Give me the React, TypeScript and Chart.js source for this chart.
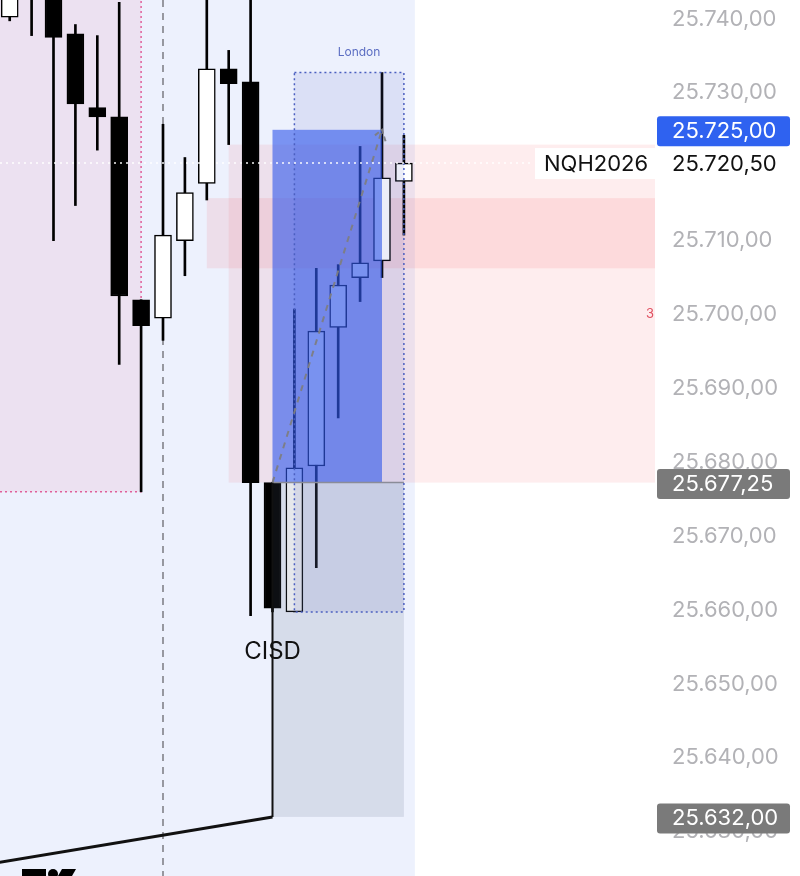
import React, { useEffect, useRef } from "react";
import { Chart, registerables } from "chart.js";

Chart.register(...registerables);

// ---- candle data (bar index, OHLC) ----
const candleIndex = [0, 1, 2, 3, 4, 5, 6, 7, 8, 9, 10, 11, 12, 13, 14, 15, 16, 17, 18];
const opens = [25740.25, 25752.0, 25745.0, 25738.0, 25728.0, 25726.75, 25702.0, 25699.5, 25710.0, 25717.75, 25733.25, 25731.5, 25677.25, 25659.75, 25679.5, 25698.25, 25705.0, 25707.25, 25718.0];
const highs = [25748.0, 25755.0, 25748.0, 25739.25, 25737.75, 25742.25, 25702.0, 25725.75, 25721.25, 25746.0, 25735.75, 25748.0, 25677.25, 25700.75, 25706.25, 25706.75, 25722.75, 25732.75, 25724.25];
const lows = [25739.75, 25737.75, 25710.0, 25714.75, 25722.25, 25693.25, 25676.0, 25696.5, 25705.25, 25715.5, 25723.0, 25659.25, 25659.75, 25659.75, 25665.75, 25686.0, 25701.75, 25705.0, 25710.75];
const closes = [25745.0, 25746.0, 25737.5, 25728.5, 25726.75, 25702.5, 25698.5, 25710.75, 25716.5, 25733.25, 25731.25, 25677.25, 25660.25, 25679.25, 25697.75, 25704.0, 25707.0, 25718.5, 25720.5];

// ---- price levels ----
const currentPrice = 25720.5;
const targetLevel = 25725;
const cisdLevel = 25677.25;
const swingLow = 25632;
const londonTop = 25732.75;
const londonBottom = 25659.75;
const pinkBoxBottom = 25676;
const fvgTop = 25715.75;
const fvgBottom = 25706.25;
const zoneTop = 25723;
const hiddenTick = 25720;

// ---- bar-index anchors for drawings ----
const sessionEndIdx = 18.5;
const pinkBoxEndIdx = 6;
const dashedLineIdx = 7;
const fvgStartIdx = 9;
const zoneStartIdx = 10;
const cisdIdx = 12;
const blueEndIdx = 17;
const londonStartIdx = 13;
const londonEndIdx = 18;
const trendLine = [[-2, 25625.1], [12, 25632]];
const cisdLabel = [12, 25654.3];
const londonLabel = [15.95, 25735.5];

const xMin = -0.443;
const xMax = 29.466;
const yMin = 25624.0;
const yMax = 25742.57;

const FONT = "Inter, 'Noto Sans', sans-serif";

function fmt(v: number): string {
  const [i, d] = Math.abs(v).toFixed(2).split(".");
  return i.replace(/\B(?=(\d{3})+(?!\d))/g, ".") + "," + d;
}

function roundRect(ctx: CanvasRenderingContext2D, x: number, y: number, w: number, h: number, r: number) {
  ctx.beginPath();
  ctx.moveTo(x + r, y);
  ctx.lineTo(x + w - r, y);
  ctx.quadraticCurveTo(x + w, y, x + w, y + r);
  ctx.lineTo(x + w, y + h - r);
  ctx.quadraticCurveTo(x + w, y + h, x + w - r, y + h);
  ctx.lineTo(x + r, y + h);
  ctx.quadraticCurveTo(x, y + h, x, y + h - r);
  ctx.lineTo(x, y + r);
  ctx.quadraticCurveTo(x, y, x + r, y);
  ctx.closePath();
}

const overlayPlugin = {
  id: "tvOverlay",
  beforeDraw(chart: any) {
    const { ctx, width, height } = chart;
    ctx.save();
    ctx.fillStyle = "#ffffff";
    ctx.fillRect(0, 0, width, height);
    ctx.restore();
  },
  beforeDatasetsDraw(chart: any) {
    const { ctx, chartArea: ca, scales } = chart;
    const X = (v: number) => scales.x.getPixelForValue(v);
    const Y = (v: number) => scales.y.getPixelForValue(v);
    ctx.save();
    ctx.beginPath();
    ctx.rect(ca.left, ca.top, ca.right - ca.left, ca.bottom - ca.top);
    ctx.clip();
    // session background
    ctx.fillStyle = "#edf1fd";
    ctx.fillRect(ca.left, ca.top, X(sessionEndIdx) - ca.left, ca.bottom - ca.top);
    // pink box
    const pbx = X(pinkBoxEndIdx);
    const pby = Y(pinkBoxBottom);
    ctx.fillStyle = "rgba(230,120,160,0.13)";
    ctx.fillRect(ca.left, ca.top, pbx - ca.left, pby - ca.top);
    ctx.strokeStyle = "#e0609a";
    ctx.lineWidth = 1.5;
    ctx.setLineDash([2, 3]);
    ctx.beginPath();
    ctx.moveTo(ca.left, pby);
    ctx.lineTo(pbx, pby);
    ctx.lineTo(pbx, ca.top);
    ctx.stroke();
    ctx.setLineDash([]);
    // red zones
    ctx.fillStyle = "rgba(242,54,69,0.09)";
    ctx.fillRect(X(zoneStartIdx), Y(zoneTop), ca.right - X(zoneStartIdx), Y(cisdLevel) - Y(zoneTop));
    ctx.fillStyle = "rgba(242,54,69,0.1)";
    ctx.fillRect(X(fvgStartIdx), Y(fvgTop), ca.right - X(fvgStartIdx), Y(fvgBottom) - Y(fvgTop));
    // dashed vertical
    ctx.strokeStyle = "#7a7a80";
    ctx.lineWidth = 1.5;
    ctx.setLineDash([7, 6]);
    ctx.beginPath();
    ctx.moveTo(X(dashedLineIdx), ca.top);
    ctx.lineTo(X(dashedLineIdx), ca.bottom);
    ctx.stroke();
    ctx.restore();
  },
  afterDatasetsDraw(chart: any) {
    const { ctx, chartArea: ca, scales } = chart;
    const X = (v: number) => scales.x.getPixelForValue(v);
    const Y = (v: number) => scales.y.getPixelForValue(v);
    ctx.save();
    ctx.beginPath();
    ctx.rect(ca.left, ca.top, ca.right - ca.left, ca.bottom - ca.top);
    ctx.clip();
    // London fill
    ctx.fillStyle = "rgba(90,110,200,0.12)";
    ctx.fillRect(X(londonStartIdx), Y(londonTop), X(londonEndIdx) - X(londonStartIdx), Y(londonBottom) - Y(londonTop));
    // gray rect
    ctx.fillStyle = "rgba(90,100,130,0.15)";
    ctx.fillRect(X(cisdIdx), Y(cisdLevel), X(londonEndIdx) - X(cisdIdx), Y(swingLow) - Y(cisdLevel));
    // blue rect
    ctx.fillStyle = "rgba(45,85,235,0.6)";
    ctx.fillRect(X(cisdIdx), Y(targetLevel), X(blueEndIdx) - X(cisdIdx), Y(cisdLevel) - Y(targetLevel));
    // cisd level line
    ctx.strokeStyle = "#8a8c98";
    ctx.lineWidth = 1.5;
    ctx.beginPath();
    ctx.moveTo(X(cisdIdx), Y(cisdLevel));
    ctx.lineTo(X(londonEndIdx), Y(cisdLevel));
    ctx.stroke();
    // London dotted border
    ctx.strokeStyle = "#4b5fc0";
    ctx.lineWidth = 1.5;
    ctx.setLineDash([2, 3]);
    ctx.strokeRect(X(londonStartIdx), Y(londonTop), X(londonEndIdx) - X(londonStartIdx), Y(londonBottom) - Y(londonTop));
    ctx.setLineDash([]);
    // trend line + vertical
    ctx.strokeStyle = "#111";
    ctx.lineWidth = 3;
    ctx.beginPath();
    ctx.moveTo(X(trendLine[0][0]), Y(trendLine[0][1]));
    ctx.lineTo(X(trendLine[1][0]), Y(trendLine[1][1]));
    ctx.stroke();
    ctx.lineWidth = 2;
    ctx.beginPath();
    ctx.moveTo(X(cisdIdx), Y(cisdLevel));
    ctx.lineTo(X(cisdIdx), Y(swingLow));
    ctx.stroke();
    // dashed arrow
    const ax0 = X(cisdIdx), ay0 = Y(cisdLevel), ax1 = X(blueEndIdx), ay1 = Y(targetLevel);
    ctx.strokeStyle = "rgba(125,125,130,0.95)";
    ctx.lineWidth = 2;
    ctx.setLineDash([6, 6]);
    ctx.beginPath();
    ctx.moveTo(ax0, ay0);
    ctx.lineTo(ax1, ay1);
    ctx.stroke();
    const ang = Math.atan2(ay1 - ay0, ax1 - ax0);
    ctx.setLineDash([5, 3]);
    ctx.beginPath();
    ctx.moveTo(ax1 - 12 * Math.cos(ang - 0.6), ay1 - 12 * Math.sin(ang - 0.6));
    ctx.lineTo(ax1, ay1);
    ctx.lineTo(ax1 - 12 * Math.cos(ang + 0.6), ay1 - 12 * Math.sin(ang + 0.6));
    ctx.stroke();
    ctx.setLineDash([]);
    // NQH label box
    const cy = Y(currentPrice);
    ctx.fillStyle = "#ffffff";
    ctx.fillRect(ca.right - 120, cy - 15, 120, 31);
    // current price dotted line
    ctx.strokeStyle = "rgba(255,255,255,0.95)";
    ctx.lineWidth = 1.5;
    ctx.setLineDash([2, 4]);
    ctx.beginPath();
    ctx.moveTo(ca.left, cy);
    ctx.lineTo(ca.right - 122, cy);
    ctx.stroke();
    ctx.setLineDash([]);
    ctx.fillStyle = "#111";
    ctx.font = `22px ${FONT}`;
    ctx.textAlign = "left";
    ctx.textBaseline = "middle";
    ctx.fillText("NQH2026", ca.right - 111, cy + 1);
    // texts
    ctx.font = `24px ${FONT}`;
    ctx.textAlign = "center";
    ctx.fillStyle = "#111";
    ctx.fillText("CISD", X(cisdLabel[0]), Y(cisdLabel[1]));
    ctx.font = `12px ${FONT}`;
    ctx.fillStyle = "#5b6dc2";
    ctx.fillText("London", X(londonLabel[0]), Y(londonLabel[1]));
    ctx.font = `13px ${FONT}`;
    ctx.fillStyle = "#e05060";
    ctx.textAlign = "right";
    ctx.fillText("3", ca.right - 1, Y(25700));
    // logo fragment
    ctx.fillStyle = "#000";
    ctx.fillRect(22, ca.bottom - 7, 24, 7);
    ctx.beginPath();
    ctx.arc(53, ca.bottom - 2, 5, 0, Math.PI * 2);
    ctx.fill();
    ctx.beginPath();
    ctx.moveTo(62, ca.bottom - 7);
    ctx.lineTo(76, ca.bottom - 7);
    ctx.lineTo(72, ca.bottom);
    ctx.lineTo(58, ca.bottom);
    ctx.closePath();
    ctx.fill();
    ctx.restore();
  },
  afterDraw(chart: any) {
    const { ctx, chartArea: ca, scales } = chart;
    const Y = (v: number) => scales.y.getPixelForValue(v);
    const lx = ca.right + 17;
    ctx.save();
    ctx.font = `22px ${FONT}`;
    ctx.textAlign = "left";
    ctx.textBaseline = "middle";
    const box = (price: number, color: string, text: string) => {
      const y = Y(price) + 1.5;
      ctx.fillStyle = color;
      roundRect(ctx, ca.right + 2, y - 15, 133, 30, 3);
      ctx.fill();
      ctx.fillStyle = "#ffffff";
      ctx.fillText(text, lx, y);
    };
    box(targetLevel, "#2f62f0", fmt(targetLevel));
    box(cisdLevel, "#7a7a7a", fmt(cisdLevel));
    box(swingLow, "#7a7a7a", fmt(swingLow));
    ctx.fillStyle = "#111";
    ctx.fillText(fmt(currentPrice), lx, Y(currentPrice) + 1);
    ctx.restore();
  },
};

export default function App() {
  const ref = useRef<HTMLCanvasElement | null>(null);
  useEffect(() => {
    if (!ref.current) return;
    const bodyColors = candleIndex.map((i) => (closes[i] >= opens[i] ? "#ffffff" : "#000000"));
    const chart = new Chart(ref.current, {
      type: "bar",
      data: {
        datasets: [
          {
            label: "wicks",
            data: candleIndex.map((i) => ({ x: i, y: [lows[i], highs[i]] })) as any,
            backgroundColor: "#000000",
            borderWidth: 0,
            barThickness: 2,
            grouped: false,
            order: 2,
          } as any,
          {
            label: "bodies",
            data: candleIndex.map((i) => ({ x: i, y: [opens[i], closes[i]] })) as any,
            backgroundColor: bodyColors,
            borderColor: "#000000",
            borderWidth: 1.5,
            borderSkipped: false,
            barThickness: 17,
            grouped: false,
            order: 1,
          } as any,
        ],
      },
      options: {
        animation: false,
        responsive: false,
        maintainAspectRatio: false,
        layout: { padding: 0 },
        plugins: { legend: { display: false }, tooltip: { enabled: false } },
        scales: {
          x: {
            type: "linear",
            display: false,
            min: xMin,
            max: xMax,
            offset: false,
            grid: { display: false },
          },
          y: {
            type: "linear",
            position: "right",
            min: yMin,
            max: yMax,
            grid: { display: false, drawTicks: false },
            border: { display: false },
            ticks: {
              stepSize: 10,
              includeBounds: false,
              autoSkip: false,
              padding: 17,
              crossAlign: "near",
              color: "#b2b2b6",
              font: { family: FONT, size: 22 },
              callback: (v: any) => (Math.abs(Number(v) - hiddenTick) < 1e-6 ? "" : fmt(Number(v))),
            },
            afterFit: (s: any) => {
              s.width = 145;
              s.paddingTop = 0;
              s.paddingBottom = 0;
            },
          },
        },
      } as any,
      plugins: [overlayPlugin],
    });
    return () => chart.destroy();
  }, []);
  return (
    <div style={{ position: "absolute", left: 0, top: 0, width: 800, height: 876, background: "#fff" }}>
      <canvas ref={ref} width={800} height={876} style={{ display: "block" }} />
    </div>
  );
}
